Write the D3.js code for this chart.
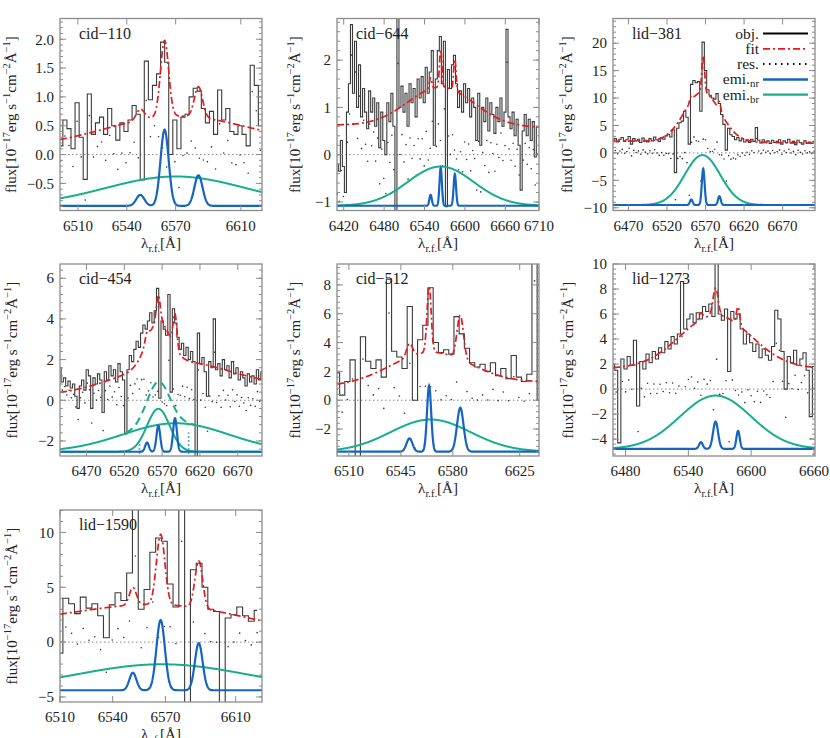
<!DOCTYPE html>
<html>
<head>
<meta charset="utf-8">
<script src="https://cdn.jsdelivr.net/npm/d3@7"></script>
<style>
  body { margin: 0; background: #fff; }
  svg text { font-family: "Liberation Serif", "DejaVu Serif", serif; fill: #222; }
</style>
</head>
<body>
<div id="chart"></div>
<script>
// ---- data ----
var panelNames = ["cid\u2212110", "cid\u2212644", "lid\u2212381", "cid\u2212454", "cid\u2212512", "lid\u22121273", "lid\u22121590"];

var xDomains = [[6499, 6623], [6410, 6710], [6450, 6712], [6435, 6702], [6502, 6638], [6468, 6661], [6510, 6625]];
var xTicks = [
    [6510, 6540, 6570, 6610],
    [6420, 6480, 6540, 6600, 6660, 6710],
    [6470, 6520, 6570, 6620, 6670],
    [6470, 6520, 6570, 6620, 6670],
    [6510, 6545, 6580, 6625],
    [6480, 6540, 6600, 6660],
    [6510, 6540, 6570, 6610]
];
var yDomains = [[-0.97, 2.36], [-1.18, 2.88], [-10.5, 24.5], [-2.74, 6.7], [-3.87, 9.45], [-5.35, 10], [-5.46, 12.05]];
var yTicks = [
    [-0.5, 0, 0.5, 1, 1.5, 2],
    [-1, 0, 1, 2],
    [-10, -5, 0, 5, 10, 15, 20],
    [-2, 0, 2, 4, 6],
    [-2, 0, 2, 4, 6, 8],
    [-4, -2, 0, 2, 4, 6, 8, 10],
    [-5, 0, 5, 10]
];
var yTickFormats = [".1f", "d", "d", "d", "d", "d", "d"];

// observed spectra (bin centre = start + i*step)
var specStart = [6499.5, 6410.5, 6450, 6435, 6502, 6468, 6510];
var specStep = [2.5, 3, 3, 3, 3.5, 3, 3.3];

var flux110 = [0.15, 0.6, 0.45, 0.1, 0.9, 0.3, -0.43, 1.05, 0.35, 0.55, 0.65, 0.35, 0.8, 0.5, 0.25, 0.55, 0.4, 0.6, 0.85, 0.7,
    -0.44, 1.62, 0.95, 1.2, 1.4, 1.95, 1.6, 0.0, 0.6, 0.1, 0.65, 0.7, 1.0, 1.15, 1.1, 0.8, 0.55, 0.75, 0.35, 1.12,
    0.6, 0.8, 0.4, 0.35, 0.5, 0.35, 0.15, 1.55, 1.2, 0.5];

var flux644 = [-0.2, -0.35, 0.3, -0.25, -0.8, 0.9, 1.5, 2.75, 1.3, 2.4, 1.0, 1.9, 0.8, 1.4, 0.9, 0.55, 1.35, 0.9, 1.2, 0.6,
    1.1, 0.15, 0.9, 0.3, 0.0, 1.1, 0.7, 1.3, 0.6, -1.2, 2.9, 1.0, 1.45, 0.9, 1.3, 0.6, 1.5, 1.1, 1.4, 0.8,
    1.6, 1.2, 1.65, 1.1, 1.85, 1.3, 1.75, 2.2, 0.2, 1.6, 2.2, 2.5, 1.5, 2.4, -1.1, 1.8, 1.4, 1.9, 2.1, 1.5,
    1.0, 1.35, 0.9, 1.5, 1.1, 1.4, 0.8, 1.2, 1.0, 0.3, 1.3, 0.2, 1.0, 0.7, 1.2, 0.5, 1.1, 0.85, 0.45, 1.0,
    0.7, 1.2, 0.6, 0.9, 2.65, 0.8, 0.55, 0.9, 0.4, 0.75, 0.2, -0.75, 0.5, 0.85, 0.4, 0.75, 0.3, 0.7, -0.05, 0.6];

var flux381 = [2.2, 2.6, 2.0, 2.5, 2.8, 2.1, 2.4, 3.0, 1.6, 2.6, 2.2, 2.5, 1.9, 2.7, 2.3, 2.0, 2.6, 2.2, 2.9, 2.4,
    2.1, 2.8, 2.5, 3.1, 3.4, 2.9, 4.2, -3.6, 4.5, 5.5, 5.8, 7.6, 6.5, 1.6, 12.5, 13.2, 12.8, 13.0, 7.6, 20.2,
    15.0, 11.5, 10.5, 10.0, 9.8, 10.8, 9.0, 7.0, 5.2, 0.5, 4.5, 3.3, 3.0, 2.4, 2.8, 2.2, 2.6, 2.0, 2.4, 1.9,
    2.5, 2.1, 4.6, 2.3, 1.8, 2.4, 2.0, 2.2, 1.7, 2.3, 1.9, 2.1, 2.4, 1.6, 2.2, 1.9, 2.5, 1.8, 2.1, 1.5,
    2.3, 1.9, 1.6, 2.2, 1.8, 2.0, 1.7, 2.1];

var flux454 = [1.6, 0.9, 1.1, 0.7, 0.95, 0.6, 0.8, 0.2, -0.4, 0.7, 1.0, 0.5, 1.5, 1.2, -0.4, 1.1, 0.8, 1.3, 1.0, -0.6,
    1.4, 1.0, 1.7, 1.2, 1.5, 0.9, 1.8, 1.4, 1.0, -1.65, 1.5, 2.2, 1.9, 2.5, 2.9, 2.6, 3.3, 3.7, 3.5, 3.9,
    4.3, 3.8, 4.4, 5.5, 0.1, 3.9, 3.5, 3.2, 5.2, 0.4, 4.5, 3.8, 3.1, 2.5, 2.8, 2.2, 2.6, 2.0, 2.4, 1.9,
    -2.8, 3.3, 1.8, 2.1, 1.4, 0.2, 1.9, 1.6, 4.0, 1.5, 1.8, 1.2, 2.0, 1.5, 1.7, 1.1, 1.9, 1.3, 1.6, 1.0,
    1.4, 1.1, 0.7, 1.3, 0.9, 1.2, 0.8, 1.5, 1.0, 1.4];

var flux512 = [1.9, 0.35, 1.3, 2.8, -3.9, 4.4, 2.7, 2.2, 2.8, 1.6, 8.4, 3.4, 3.0, 2.2, 6.5, 0.0, 4.2, 5.2, 7.8, 4.0,
    3.3, 3.5, 3.2, 5.8, 4.6, 3.6, 2.6, 2.3, 2.5, 2.0, 2.6, 1.7, 2.2, 1.5, 3.1, 1.6, 1.3, 1.8, 9.6, 0.0];

var flux1273 = [2.0, 1.5, -4.3, 2.4, 1.6, 2.6, 1.9, 3.9, -1.35, 2.2, 1.6, 2.8, 2.1, 3.0, 2.4, 3.3, 2.9, 3.8, 3.2, 4.2,
    3.6, 4.4, 8.6, 4.8, 5.6, 6.0, 5.3, 6.1, 5.6, 6.6, 6.2, 6.8, 5.8, 10.3, 6.0, 5.5, 6.4, 1.4, 6.2, 5.6,
    6.0, 4.8, 3.6, 4.4, 3.7, 3.0, 3.6, 2.5, 3.2, 2.7, 2.3, 3.4, 6.3, 5.6, 3.0, 0.0, 2.6, 2.1, 3.1, 1.9,
    2.4, 2.9, 1.5, -2.2, 1.8];

var flux1590 = [-1.0, 4.0, 3.5, 2.6, 4.1, 3.1, 3.5, 2.4, 0.4, 3.4, 4.5, 3.8, 6.3, 12.5, 3.0, 4.8, 8.2, 9.5, 9.2, 5.3,
    3.2, 12.5, -5.5, 6.6, 7.2, 5.0, 3.0, 2.8, -5.5, 2.2, 2.5, 3.2, 2.4, 1.9, 2.9];

var fluxes = [flux110, flux644, flux381, flux454, flux512, flux1273, flux1590];

// fitted model: continuum [level, slope, pivot], gaussians [centre, amplitude, sigma]
var contPars = [[0.155, 0.0004, 6563], [0.6, -0.00017, 6563], [2.0, -0.0015, 6567], [0.45, 0.0015, 6563],
    [1.1, 0.002, 6565], [1.65, 0, 6566], [1.05, -0.0055, 6568]];
var narrowLines = [
    [[6548.3, 0.19, 2.5], [6563.2, 1.32, 2.5], [6584, 0.53, 2.5]],
    [[6549, 0.23, 1.8], [6564, 0.8, 1.8], [6585, 0.67, 1.8]],
    [[6551.5, 1.0, 1.8], [6567, 6.6, 1.8], [6588, 1.6, 1.8]],
    [[6550, 0.45, 2.5], [6565, 1.28, 2.5], [6587, 1.65, 2.5]],
    [[6550.8, 0.92, 2.0], [6564, 4.57, 1.4], [6585, 3.05, 2.2]],
    [[6552, 0.53, 1.8], [6566, 2.18, 2.4], [6587.5, 1.44, 1.6]],
    [[6551.5, 1.6, 2.0], [6567.3, 6.4, 2.4], [6589, 4.3, 2.2]]
];
var broadLines = [
    [[6570, 0.51, 43]],
    [[6564, 0.83, 49]],
    [[6566, 9.1, 23]],
    [[6565, 2.11, 15], [6588, 1.4, 70]],
    [[6565, 2.23, 27]],
    [[6566, 4.26, 34]],
    [[6568, 2.37, 49]]
];
var emiBase = [-0.89, -1.08, -9.5, -2.53, -3.57, -4.78, -4.39];

// cid-454 extra: summed broad profile range and the two dotted markers [wavelength, height]
var brSumRange454 = [6522, 6612];
var brMarks454 = [[6540, 0.45], [6605, 0.95]];

var legendLabels = ["obj.", "fit", "res.", "emi.", "emi."];
var legendSubs = ["", "", "", "nr", "br"];

// ---- drawing ----
var svgWidth = 830, svgHeight = 738;
var pw = 202, ph = 192;
var colX = [60, 337, 613];
var rowY = [18.5, 264, 510];
var ylabOff = [44, 37, 41, 43, 37, 40, 43];

var blue = "#1565c0", teal = "#17ae8f", red = "#e41a1c";

var svg = d3.select("#chart").append("svg")
    .attr("width", svgWidth)
    .attr("height", svgHeight);

function gauss(l, p) {
    return p[1] * Math.exp(-0.5 * Math.pow((l - p[0]) / p[2], 2));
}

function richText(t, parts) {
    var prev = 0;
    parts.forEach(function (p) {
        var s = t.append("tspan").text(p[0]).attr("dy", p[1] - prev);
        if (p[1] !== 0) s.attr("font-size", "0.7em");
        prev = p[1];
    });
}

panelNames.forEach(function (name, i) {
    var left = colX[i % 3], top = rowY[Math.floor(i / 3)];
    var x = d3.scaleLinear().domain(xDomains[i]).range([0, pw]);
    var y = d3.scaleLinear().domain(yDomains[i]).range([ph, 0]);
    var g = svg.append("g").attr("transform", "translate(" + left + "," + top + ")");

    g.append("clipPath").attr("id", "clip" + i)
        .append("rect").attr("width", pw).attr("height", ph);
    var inner = g.append("g").attr("clip-path", "url(#clip" + i + ")");

    var cont = contPars[i];
    function fitAt(l) {
        var v = cont[0] + cont[1] * (l - cont[2]);
        broadLines[i].forEach(function (p) { v += gauss(l, p); });
        narrowLines[i].forEach(function (p) { v += gauss(l, p); });
        return v;
    }

    var flux = fluxes[i];
    var lam = function (j) { return specStart[i] + j * specStep[i]; };
    var grid = d3.range(xDomains[i][0], xDomains[i][1] + 0.25, 0.25);

    // zero line
    inner.append("line")
        .attr("x1", 0).attr("x2", pw)
        .attr("y1", y(0)).attr("y2", y(0))
        .attr("stroke", "#888").attr("stroke-width", 1)
        .attr("stroke-dasharray", "1.5,2.5");

    // residuals
    inner.selectAll("circle.res")
        .data(flux)
        .enter()
        .append("circle")
        .attr("class", "res")
        .attr("cx", function (d, j) { return x(lam(j)); })
        .attr("cy", function (d, j) { return y(d - fitAt(lam(j))); })
        .attr("r", 0.8)
        .attr("fill", "#333");

    // observed spectrum
    inner.append("path")
        .datum(flux)
        .attr("fill", "none")
        .attr("stroke", "#3a3a3a")
        .attr("stroke-width", 1.1)
        .attr("d", d3.line()
            .x(function (d, j) { return x(lam(j)); })
            .y(function (d) { return y(d); })
            .curve(d3.curveStep));

    // broad components
    broadLines[i].forEach(function (p) {
        inner.append("path")
            .datum(grid)
            .attr("fill", "none")
            .attr("stroke", teal)
            .attr("stroke-width", 2)
            .attr("d", d3.line()
                .x(function (l) { return x(l); })
                .y(function (l) { return y(emiBase[i] + gauss(l, p)); }));
    });

    if (i === 3) {
        var sumGrid = d3.range(brSumRange454[0], brSumRange454[1], 0.25);
        inner.append("path")
            .datum(sumGrid)
            .attr("fill", "none")
            .attr("stroke", teal)
            .attr("stroke-width", 2)
            .attr("stroke-dasharray", "8,5")
            .attr("d", d3.line()
                .x(function (l) { return x(l); })
                .y(function (l) {
                    var v = emiBase[i];
                    broadLines[i].forEach(function (p) { v += gauss(l, p); });
                    return y(v);
                }));
        brMarks454.forEach(function (m) {
            inner.append("line")
                .attr("x1", x(m[0])).attr("x2", x(m[0]))
                .attr("y1", y(emiBase[i] - 0.3)).attr("y2", y(emiBase[i] + m[1]))
                .attr("stroke", teal).attr("stroke-width", 1.8)
                .attr("stroke-dasharray", "1.5,2.5");
        });
    }

    // narrow components on the offset baseline
    inner.append("path")
        .datum(grid)
        .attr("fill", "none")
        .attr("stroke", blue)
        .attr("stroke-width", 2.2)
        .attr("d", d3.line()
            .x(function (l) { return x(l); })
            .y(function (l) {
                var v = emiBase[i];
                narrowLines[i].forEach(function (p) { v += gauss(l, p); });
                return y(v);
            }));

    // fit
    inner.append("path")
        .datum(grid)
        .attr("fill", "none")
        .attr("stroke", red)
        .attr("stroke-width", 1.7)
        .attr("stroke-dasharray", "7,3,2,3")
        .attr("d", d3.line()
            .x(function (l) { return x(l); })
            .y(function (l) { return y(fitAt(l)); }));

    // frame and ticks
    g.append("rect")
        .attr("width", pw).attr("height", ph)
        .attr("fill", "none").attr("stroke", "#8c8c8c").attr("stroke-width", 1.3);

    var tickCol = "#8c8c8c";
    xTicks[i].forEach(function (t) {
        if (t < xDomains[i][0] || t > xDomains[i][1]) return;
        g.append("line").attr("x1", x(t)).attr("x2", x(t)).attr("y1", ph).attr("y2", ph - 6)
            .attr("stroke", tickCol).attr("stroke-width", 1);
        g.append("line").attr("x1", x(t)).attr("x2", x(t)).attr("y1", 0).attr("y2", 6)
            .attr("stroke", tickCol).attr("stroke-width", 1);
        g.append("text")
            .attr("x", x(t)).attr("y", ph + 20)
            .attr("text-anchor", "middle")
            .attr("font-size", 15)
            .text(t);
    });

    var ytk = yTicks[i];
    var minorStep = (ytk[1] - ytk[0]) / 5;
    var minors = d3.range(Math.ceil(yDomains[i][0] / minorStep) * minorStep, yDomains[i][1], minorStep);
    minors.forEach(function (t) {
        g.append("line").attr("x1", 0).attr("x2", 3).attr("y1", y(t)).attr("y2", y(t))
            .attr("stroke", tickCol).attr("stroke-width", 1);
        g.append("line").attr("x1", pw).attr("x2", pw - 3).attr("y1", y(t)).attr("y2", y(t))
            .attr("stroke", tickCol).attr("stroke-width", 1);
    });
    var fmt = d3.format(yTickFormats[i]);
    ytk.forEach(function (t) {
        g.append("line").attr("x1", 0).attr("x2", 6).attr("y1", y(t)).attr("y2", y(t))
            .attr("stroke", tickCol).attr("stroke-width", 1);
        g.append("line").attr("x1", pw).attr("x2", pw - 6).attr("y1", y(t)).attr("y2", y(t))
            .attr("stroke", tickCol).attr("stroke-width", 1);
        g.append("text")
            .attr("x", -6).attr("y", y(t))
            .attr("dy", "0.35em")
            .attr("text-anchor", "end")
            .attr("font-size", 15)
            .text(fmt(t));
    });

    // panel name
    g.append("text")
        .attr("x", 19).attr("y", 20)
        .attr("font-size", 16)
        .text(name);

    // axis titles
    var xt = g.append("text")
        .attr("x", pw / 2).attr("y", ph + 37)
        .attr("text-anchor", "middle")
        .attr("font-size", 15);
    richText(xt, [["\u03bb", 0], ["r.f.", 4], ["[\u00c5]", 0]]);

    var yt = g.append("text")
        .attr("transform", "translate(" + (-ylabOff[i]) + "," + (ph / 2) + ") rotate(-90)")
        .attr("text-anchor", "middle")
        .attr("dy", "0.35em")
        .attr("font-size", 15);
    richText(yt, [["flux[10", 0], ["\u221217", -6], ["erg s", 0], ["\u22121", -6], ["cm", 0],
        ["\u22122", -6], ["\u00c5", 0], ["\u22121", -6], ["]", 0]]);

    // legend in the lid-381 panel
    if (i === 2) {
        var styles = [
            { stroke: "#000", width: 2, dash: null },
            { stroke: red, width: 1.8, dash: "7,3,2,3" },
            { stroke: "#000", width: 2, dash: "1.5,4.5" },
            { stroke: blue, width: 2.5, dash: null },
            { stroke: teal, width: 2.2, dash: null }
        ];
        legendLabels.forEach(function (lab, k) {
            var ly = 15 + k * 15.3;
            var lt = g.append("text")
                .attr("x", 146).attr("y", ly + 5)
                .attr("text-anchor", "end")
                .attr("font-size", 15.5);
            richText(lt, legendSubs[k] ? [[lab, 0], [legendSubs[k], 3]] : [[lab, 0]]);
            g.append("line")
                .attr("x1", 150).attr("x2", 195)
                .attr("y1", ly).attr("y2", ly)
                .attr("stroke", styles[k].stroke)
                .attr("stroke-width", styles[k].width)
                .attr("stroke-dasharray", styles[k].dash);
        });
    }
});
</script>
</body>
</html>
